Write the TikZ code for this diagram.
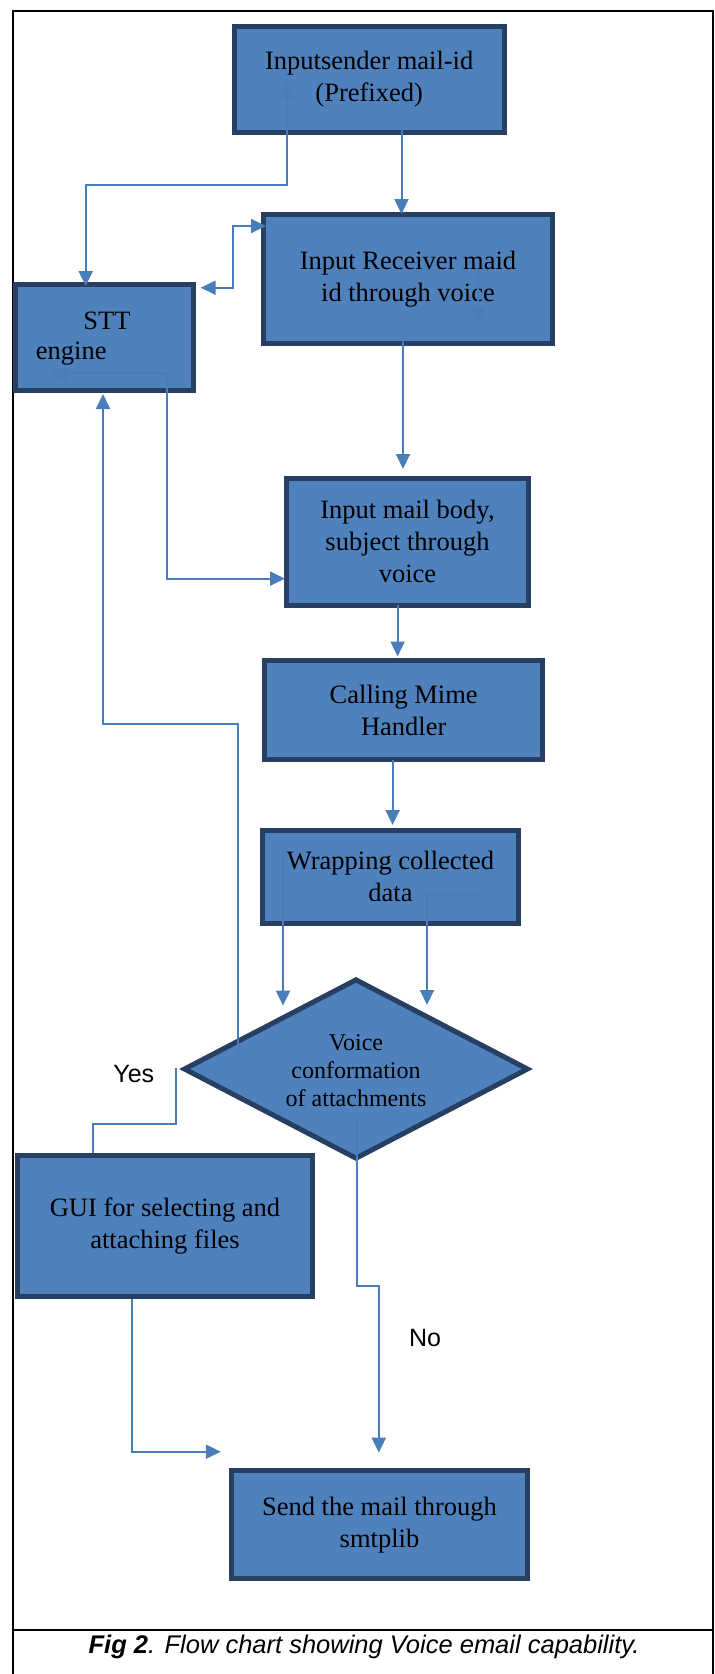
\documentclass[tikz,border=0pt]{standalone}
\usepackage{fontspec}
\usetikzlibrary{arrows.meta,shapes.geometric}
\newfontfamily\serifbox{Liberation Serif}
\newfontfamily\arialf{Liberation Sans}
\definecolor{boxfill}{HTML}{4F81BD}
\definecolor{boxline}{HTML}{263F62}
\definecolor{conn}{HTML}{4A7EBB}
\tikzset{
  box/.style={draw=boxline, line width=5pt, fill=boxfill, inner sep=0pt, align=center,
    font=\serifbox\fontsize{26.5}{32}\selectfont},
  dia/.style={shape=diamond, draw=boxline, line width=5pt, fill=boxfill, inner sep=0pt, align=center,
    font=\serifbox\fontsize{24}{28}\selectfont},
  conline/.style={draw=conn, line width=2pt, >={Triangle[length=15pt,width=14pt]}},
  lab/.style={font=\arialf\fontsize{25}{30}\selectfont, inner sep=0pt},
}
\begin{document}
\begin{tikzpicture}[x=1pt,y=-1pt]
\useasboundingbox (0,0) rectangle (715,1674);
% frame
\draw[line width=2pt] (12.8,1674) -- (12.8,10.5) -- (712.8,10.5) -- (712.8,1674);
\draw[line width=2pt] (12.8,1630) -- (712.8,1630);
\node[inner sep=0pt] (cap) at (364,1647) {\arialf\fontsize{25.5}{30}\selectfont{\bfseries\itshape Fig 2}{\itshape . Flow chart showing Voice email capability.}};

% boxes
\node[box, minimum width=270pt, minimum height=106pt] (b1) at (369.2,79.5) {Inputsender mail-id\\(Prefixed)};
\node[box, minimum width=289pt, minimum height=129pt] (b2) at (408,279) {Input Receiver maid\\id through voice};
\node[box, minimum width=178pt, minimum height=105.7pt] (stt) at (104.4,337.3) {};
\node[inner sep=0pt, font=\serifbox\fontsize{26.5}{32}\selectfont] (stta) at (107,321) {STT};
\node[inner sep=0pt, anchor=west, font=\serifbox\fontsize{26.5}{32}\selectfont] (sttb) at (35.7,354) {engine};
\node[box, minimum width=242pt, minimum height=127pt] (b3) at (407.5,541.6) {Input mail body,\\subject through\\voice};
\node[box, minimum width=277.5pt, minimum height=99.8pt] (b4) at (403.7,710) {Calling Mime\\Handler};
\node[box, minimum width=256pt, minimum height=93.4pt] (b5) at (390.5,876.8) {Wrapping collected\\data};
\node[dia, minimum width=345pt, minimum height=180.4pt] (d) at (356,1069) {};
\node[inner sep=0pt, align=center, font=\serifbox\fontsize{24}{28}\selectfont] (dt) at (356,1071) {Voice\\conformation\\of attachments};
\node[box, minimum width=295pt, minimum height=140.7pt] (gui) at (165,1226) {GUI for selecting and\\attaching files};
\node[box, minimum width=296pt, minimum height=108.4pt] (send) at (379.5,1524.7) {Send the mail through\\smtplib};

% labels
\node[lab] (yes) at (133.8,1074) {Yes};
\node[lab] (no) at (425,1338) {No};

% free ends
\coordinate (c1a) at (401.5,123);
\coordinate (c1b) at (401.5,214);
\coordinate (c2a) at (85.7,286);
\coordinate (c2b) at (286.7,83);
\coordinate (c3a) at (200.7,287.7);
\coordinate (c3b) at (266,226);
\coordinate (c4a) at (477.7,270);
\coordinate (c4b) at (477.7,323);
\coordinate (c5a) at (403,335);
\coordinate (c5b) at (403,469);
\coordinate (c6a) at (51.7,373.3);
\coordinate (c6b) at (285,578.6);
\coordinate (c7a) at (238,1054.6);
\coordinate (c7b) at (103,394);
\coordinate (c8a) at (397.6,605);
\coordinate (c8b) at (397.6,656.5);
\coordinate (c9a) at (392.6,760);
\coordinate (c9b) at (392.6,825);
\coordinate (c10a) at (283,848);
\coordinate (c10b) at (283,1005.6);
\coordinate (c11a) at (478.7,893.8);
\coordinate (c11b) at (427,1005);
\coordinate (c12a) at (175.7,1068);
\coordinate (c12b) at (93,1153.3);
\coordinate (c13a) at (356.7,1115);
\coordinate (c13b) at (378.8,1452.7);
\coordinate (c14a) at (131.5,1299);
\coordinate (c14b) at (220.8,1451.7);

% connectors
\draw[conline,->] (c1a) -- (c1b);
\draw[conline,<->] (c2a) -- (85.7,185) -- (286.7,185) -- (c2b);
\draw[conline,<->] (c3a) -- (232.7,287.7) -- (232.7,226) -- (c3b);
\draw[conline,->] (c4a) -- (c4b);
\draw[conline,->] (c5a) -- (c5b);
\draw[conline,<->] (c6a) -- (166.7,373.3) -- (166.7,578.6) -- (c6b);
\draw[conline,->] (c7a) -- (238,723.5) -- (103,723.5) -- (c7b);
\draw[conline,->] (c8a) -- (c8b);
\draw[conline,->] (c9a) -- (c9b);
\draw[conline,->] (c10a) -- (c10b);
\draw[conline,->] (c11a) -- (427,893.8) -- (c11b);
\draw[conline] (c12a) -- (175.7,1124.3) -- (93,1124.3) -- (c12b);
\draw[conline,->] (c13a) -- (356.7,1285.5) -- (378.8,1285.5) -- (c13b);
\draw[conline,->] (c14a) -- (131.5,1451.7) -- (c14b);
\end{tikzpicture}
\end{document}
